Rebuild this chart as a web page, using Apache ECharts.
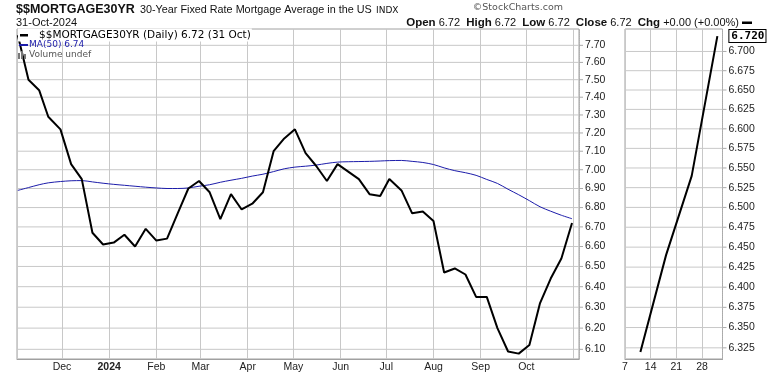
<!DOCTYPE html>
<html>
<head>
<meta charset="utf-8">
<script src="https://cdn.jsdelivr.net/npm/echarts@6/dist/echarts.min.js"></script>
<style>
html, body { margin: 0; padding: 0; background: #fff; }
#chart { width: 770px; height: 376px; }
</style>
</head>
<body>
<div id="chart"></div>
<script>
// weekly readings (Thursday releases)
const weekDates = ['2023-11-02','2023-11-09','2023-11-16','2023-11-22','2023-11-30',
	'2023-12-07','2023-12-14','2023-12-21','2023-12-28',
	'2024-01-04','2024-01-11','2024-01-18','2024-01-25',
	'2024-02-01','2024-02-08','2024-02-15','2024-02-22','2024-02-29',
	'2024-03-07','2024-03-14','2024-03-21','2024-03-28',
	'2024-04-04','2024-04-11','2024-04-18','2024-04-25',
	'2024-05-02','2024-05-09','2024-05-16','2024-05-23','2024-05-30',
	'2024-06-06','2024-06-13','2024-06-20','2024-06-27',
	'2024-07-03','2024-07-11','2024-07-18','2024-07-25',
	'2024-08-01','2024-08-08','2024-08-15','2024-08-22','2024-08-29',
	'2024-09-05','2024-09-12','2024-09-19','2024-09-26',
	'2024-10-03','2024-10-10','2024-10-17','2024-10-24','2024-10-31'];
const closeValues = [7.76, 7.50, 7.44, 7.29, 7.22,
	7.03, 6.95, 6.67, 6.61,
	6.62, 6.66, 6.60, 6.69,
	6.63, 6.64, 6.77, 6.90, 6.94,
	6.88, 6.74, 6.87, 6.79,
	6.82, 6.88, 7.10, 7.17,
	7.22, 7.09, 7.02, 6.94, 7.03,
	6.99, 6.95, 6.87, 6.86,
	6.95, 6.89, 6.77, 6.78,
	6.73, 6.47, 6.49, 6.46, 6.35,
	6.35, 6.20, 6.09, 6.08,
	6.12, 6.32, 6.44, 6.54, 6.72];
const maValues = [6.890, 6.905, 6.920, 6.930, 6.937,
	6.941, 6.942, 6.935, 6.928,
	6.922, 6.917, 6.912, 6.907,
	6.903, 6.900, 6.900, 6.903, 6.912,
	6.920, 6.933, 6.944, 6.954,
	6.966, 6.976, 6.990, 7.005,
	7.014, 7.019, 7.025, 7.034, 7.041,
	7.043, 7.044, 7.045, 7.047,
	7.049, 7.050, 7.045, 7.039,
	7.028, 7.010, 6.995, 6.984, 6.970,
	6.948, 6.927, 6.896, 6.867,
	6.836, 6.804, 6.781, 6.760, 6.742];
const priceTicks = [7.70, 7.60, 7.50, 7.40, 7.30, 7.20, 7.10, 7.00, 6.90, 6.80, 6.70, 6.60, 6.50, 6.40, 6.30, 6.20, 6.10];
const monthNames = ['Jan','Feb','Mar','Apr','May','Jun','Jul','Aug','Sep','Oct','Nov','Dec'];

// zoom panel (last weeks, trading days)
const zoomDays = ['2024-10-07','2024-10-08','2024-10-09','2024-10-10','2024-10-11',
	'2024-10-14','2024-10-15','2024-10-16','2024-10-17','2024-10-18',
	'2024-10-21','2024-10-22','2024-10-23','2024-10-24','2024-10-25',
	'2024-10-28','2024-10-29','2024-10-30','2024-10-31','2024-11-01'];
const zoomDates = ['2024-10-10','2024-10-17','2024-10-24','2024-10-31'];
const zoomValues = [6.32, 6.44, 6.54, 6.72];
const zoomTicks = [6.700, 6.675, 6.650, 6.625, 6.600, 6.575, 6.550, 6.525, 6.500, 6.475, 6.450, 6.425, 6.400, 6.375, 6.350, 6.325];
const zoomLabelDays = ['2024-10-07','2024-10-14','2024-10-21','2024-10-28'];

function toTime(s) {
	let p = s.split('-');
	return new Date(+p[0], +p[1] - 1, +p[2]).getTime();
}

let myChart = echarts.init(document.getElementById('chart'));

let lastClose = closeValues[closeValues.length - 1];
let lastMa = maValues[maValues.length - 1];
let gridColor = '#c8c8c8';
let borderColor = '#a0a0a0';
let tickFont = 'Liberation Sans';

// axis ranges
let mainMinX = new Date(2023, 10, 1, 11).getTime();
let mainMaxX = new Date(2024, 10, 4, 14).getTime();
let mainMinY = 6.055, mainMaxY = 7.797;
let zoomMinY = 6.3113, zoomMaxY = 6.7293;

let mainData = weekDates.map((d, i) => [toTime(d), closeValues[i]]);
let zoomData = zoomDates.map((d, i) => [d, zoomValues[i]]);

let tickRich = {
	t: { width: 4, height: 1, backgroundColor: '#aaa' },
	v: { fontSize: 10.5, fontFamily: tickFont, color: '#222', padding: [0, 0, 0, 2] }
};

// price level: a grid line through the log scale, with its label at the right end
function priceLevel(axisIdx, data, labelText) {
	return {
		type: 'line',
		xAxisIndex: axisIdx,
		yAxisIndex: axisIdx,
		z: 2,
		silent: true,
		showSymbol: false,
		symbol: 'none',
		lineStyle: { color: gridColor, width: 1 },
		tooltip: { show: false },
		data: data,
		endLabel: { show: true, distance: 0, formatter: '{t|}{v|' + labelText + '}', rich: tickRich }
	};
}

let levelSeries = []
	.concat(priceTicks.map(v => priceLevel(0, [[mainMinX, v], [mainMaxX, v]], v.toFixed(2))))
	.concat(zoomTicks.map(v => priceLevel(1, [[zoomDays[0], v], [zoomDays[zoomDays.length - 1], v]], v.toFixed(3))));

let option = {
	animation: false,
	backgroundColor: '#fff',
	grid: [
		{ left: 17, top: 29, right: 191, bottom: 17, show: true, z: 0, backgroundColor: 'transparent', borderColor: borderColor, borderWidth: 1 },
		{ left: 625, top: 29, right: 47.5, bottom: 17, show: true, z: 0, backgroundColor: 'transparent', borderColor: borderColor, borderWidth: 1 }
	],
	xAxis: [{
		type: 'time',
		gridIndex: 0,
		min: mainMinX,
		max: mainMaxX,
		minInterval: 28 * 86400000,
		maxInterval: 31 * 86400000,
		axisLine: { show: true, lineStyle: { color: borderColor } },
		axisTick: { show: false },
		splitLine: { show: true, lineStyle: { color: gridColor, width: 1 } },
		axisLabel: {
			margin: 3,
			fontSize: 10.5,
			fontFamily: tickFont,
			color: '#222',
			hideOverlap: false,
			formatter: function (v) {
				let d = new Date(v);
				if (d.getTime() > toTime('2024-10-15')) return '';
				if (d.getMonth() === 0) return '{b|' + d.getFullYear() + '}';
				return monthNames[d.getMonth()];
			},
			rich: { b: { fontWeight: 'bold', fontSize: 10.5, fontFamily: tickFont, color: '#222' } }
		}
	}, {
		type: 'category',
		gridIndex: 1,
		data: zoomDays,
		boundaryGap: false,
		axisLine: { show: true, lineStyle: { color: borderColor } },
		axisTick: { show: false },
		splitLine: {
			show: true,
			interval: (idx, val) => zoomLabelDays.indexOf(val) >= 0,
			lineStyle: { color: gridColor, width: 1 }
		},
		axisLabel: {
			margin: 3,
			fontSize: 10.5,
			fontFamily: tickFont,
			color: '#222',
			interval: (idx, val) => zoomLabelDays.indexOf(val) >= 0,
			formatter: v => String(Number(v.slice(8)))
		}
	}],
	yAxis: [{
		type: 'log',
		gridIndex: 0,
		position: 'right',
		min: mainMinY,
		max: mainMaxY,
		axisLine: { show: true, lineStyle: { color: '#b0b0b0', type: 'dotted' } },
		axisTick: { show: false },
		axisLabel: { show: false },
		splitLine: { show: false }
	}, {
		type: 'log',
		gridIndex: 1,
		position: 'right',
		min: zoomMinY,
		max: zoomMaxY,
		axisLine: { show: true, lineStyle: { color: '#b0b0b0', type: 'dotted' } },
		axisTick: { show: false },
		axisLabel: { show: false },
		splitLine: { show: false }
	}],
	series: levelSeries.concat([{
		name: 'MA(50)',
		type: 'line',
		xAxisIndex: 0,
		yAxisIndex: 0,
		z: 3,
		showSymbol: false,
		smooth: 0.3,
		lineStyle: { color: '#1c1caa', width: 1 },
		data: weekDates.map((d, i) => [toTime(d), maValues[i]])
	}, {
		name: '$$MORTGAGE30YR',
		type: 'line',
		xAxisIndex: 0,
		yAxisIndex: 0,
		z: 4,
		showSymbol: false,
		lineStyle: { color: '#000', width: 2 },
		data: mainData
	}, {
		type: 'line',
		xAxisIndex: 1,
		yAxisIndex: 1,
		z: 4,
		showSymbol: false,
		lineStyle: { color: '#000', width: 2 },
		data: zoomData,
		endLabel: {
			show: true,
			distance: 12,
			formatter: p => (Array.isArray(p.value) ? p.value[1] : p.value).toFixed(3),
			fontFamily: 'DejaVu Sans Mono',
			fontWeight: 'bold',
			fontSize: 11,
			color: '#000',
			backgroundColor: '#fff',
			borderColor: '#000',
			borderWidth: 1,
			padding: [1, 1, 0, 2]
		}
	}]),
	graphic: [
		{ type: 'text', x: 16, y: 10, style: { text: '$$MORTGAGE30YR', font: 'bold 12.5px "Liberation Sans"', fill: '#111', verticalAlign: 'middle' } },
		{ type: 'text', x: 140, y: 10, style: { text: '30-Year Fixed Rate Mortgage Average in the US', font: '10.8px "Liberation Sans"', fill: '#111', verticalAlign: 'middle' } },
		{ type: 'text', x: 376, y: 10.5, style: { text: 'INDX', font: '9px "DejaVu Sans"', fill: '#111', verticalAlign: 'middle' } },
		{ type: 'text', x: 563, y: 8, style: { text: '\u00a9StockCharts.com', font: '9.5px "DejaVu Sans"', fill: '#555', align: 'right', verticalAlign: 'middle' } },
		{ type: 'text', x: 16, y: 22.5, style: { text: '31-Oct-2024', font: '11px "Liberation Sans"', fill: '#111', verticalAlign: 'middle' } },
		{ type: 'text', x: 739, y: 22.5, style: {
			text: '{b|Open} ' + lastClose.toFixed(2) + '  {b|High} ' + lastClose.toFixed(2) + '  {b|Low} ' + lastClose.toFixed(2) +
				'  {b|Close} ' + lastClose.toFixed(2) + '  {b|Chg} +0.00 (+0.00%)',
			font: '11px "Liberation Sans"', fill: '#111', align: 'right', verticalAlign: 'middle',
			rich: { b: { fontWeight: 'bold', fontSize: 11.5, fontFamily: 'Liberation Sans', fill: '#111' } }
		} },
		{ type: 'rect', shape: { x: 742, y: 21.5, width: 10, height: 2.5 }, style: { fill: '#000' } },
		// legend inside the plot
		{ type: 'text', x: 18, y: 35, z: 10, style: {
			text: '      $$MORTGAGE30YR (Daily) ' + lastClose.toFixed(2) + ' (31 Oct)',
			font: '10.5px "DejaVu Sans"', fill: '#000', verticalAlign: 'middle', backgroundColor: '#fff', padding: [1, 1, 1, 1]
		} },
		{ type: 'rect', z: 11, shape: { x: 20, y: 34, width: 8, height: 2.5 }, style: { fill: '#000' } },
		{ type: 'rect', z: 11, shape: { x: 19, y: 44, width: 9, height: 2 }, style: { fill: '#1c1caa' } },
		{ type: 'text', x: 29, y: 45, z: 10, style: { text: 'MA(50) ' + lastMa.toFixed(2), font: '9px "DejaVu Sans"', fill: '#1c1caa', verticalAlign: 'middle' } },
		{ type: 'rect', z: 11, shape: { x: 18, y: 53, width: 2, height: 6 }, style: { fill: '#777' } },
		{ type: 'rect', z: 11, shape: { x: 21, y: 51, width: 2, height: 8 }, style: { fill: '#777' } },
		{ type: 'rect', z: 11, shape: { x: 24, y: 54, width: 2, height: 5 }, style: { fill: '#777' } },
		{ type: 'text', x: 29, y: 55, z: 10, style: { text: 'Volume undef', font: '9px "DejaVu Sans"', fill: '#555', verticalAlign: 'middle' } }
	]
};

myChart.setOption(option);
</script>
</body>
</html>
